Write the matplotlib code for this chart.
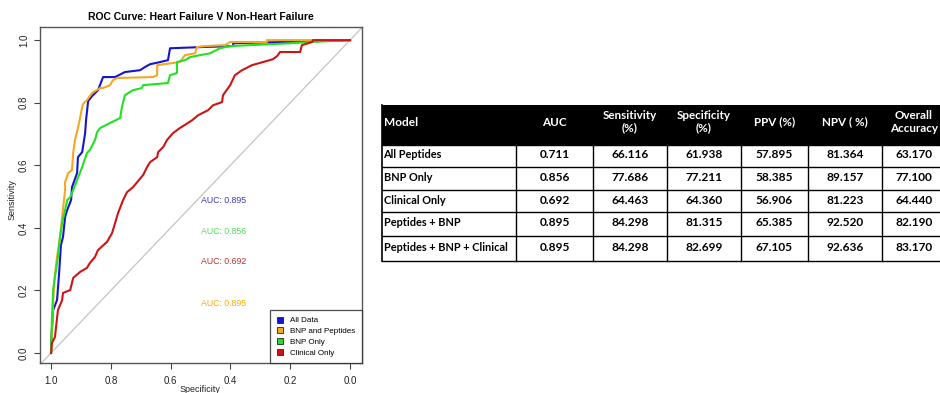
import matplotlib
matplotlib.use("Agg")
import matplotlib.pyplot as plt
from matplotlib.patches import Rectangle

# ROC curves (specificity, sensitivity)
all_spec = [0.000, 0.234, 0.391, 0.391, 0.492, 0.602, 0.609, 0.635, 0.669, 0.686, 0.702, 0.753,
            0.786, 0.826, 0.843, 0.863, 0.876, 0.883, 0.886, 0.896, 0.910, 0.913, 0.930, 0.933,
            0.946, 0.953, 0.960, 0.967, 0.973, 0.980, 0.993, 1.000, 1.000]
all_sens = [1.000, 0.994, 0.990, 0.981, 0.978, 0.974, 0.936, 0.930, 0.923, 0.914, 0.904, 0.898,
            0.882, 0.882, 0.840, 0.821, 0.805, 0.744, 0.703, 0.642, 0.626, 0.575, 0.530, 0.489,
            0.457, 0.435, 0.371, 0.345, 0.256, 0.169, 0.137, 0.032, 0.000]

bp_spec = [0.000, 0.278, 0.278, 0.401, 0.418, 0.485, 0.512, 0.518, 0.552, 0.569, 0.645, 0.645,
           0.659, 0.779, 0.793, 0.803, 0.826, 0.836, 0.863, 0.880, 0.893, 0.896, 0.903, 0.910,
           0.920, 0.926, 0.930, 0.943, 0.953, 0.953, 0.963, 0.970, 0.980, 0.990, 0.997, 1.000]
bp_sens = [1.000, 1.000, 0.994, 0.994, 0.984, 0.981, 0.978, 0.958, 0.952, 0.930, 0.920, 0.888,
           0.882, 0.879, 0.872, 0.856, 0.847, 0.847, 0.831, 0.808, 0.796, 0.786, 0.751, 0.719,
           0.681, 0.639, 0.585, 0.575, 0.546, 0.521, 0.435, 0.371, 0.307, 0.224, 0.064, 0.000]

bnp_spec = [0.000, 0.134, 0.201, 0.401, 0.435, 0.468, 0.502, 0.535, 0.552, 0.579, 0.579, 0.602,
            0.609, 0.692, 0.696, 0.726, 0.753, 0.763, 0.769, 0.803, 0.836, 0.846, 0.853, 0.870,
            0.880, 0.896, 0.913, 0.926, 0.936, 0.946, 0.953, 0.963, 0.970, 0.977, 0.987, 0.993,
            0.997, 1.000]
bnp_sens = [1.000, 0.994, 0.990, 0.981, 0.974, 0.958, 0.952, 0.946, 0.936, 0.930, 0.895, 0.888,
            0.863, 0.856, 0.847, 0.840, 0.824, 0.786, 0.751, 0.735, 0.719, 0.706, 0.681, 0.649,
            0.639, 0.594, 0.553, 0.521, 0.498, 0.489, 0.457, 0.415, 0.371, 0.307, 0.243, 0.201,
            0.115, 0.000]

clin_spec = [0.000, 0.124, 0.127, 0.161, 0.167, 0.234, 0.244, 0.258, 0.291, 0.328, 0.361, 0.385,
             0.401, 0.425, 0.428, 0.458, 0.475, 0.508, 0.528, 0.569, 0.592, 0.612, 0.625, 0.642,
             0.645, 0.669, 0.679, 0.692, 0.712, 0.726, 0.746, 0.759, 0.776, 0.786, 0.796, 0.813,
             0.843, 0.853, 0.870, 0.880, 0.903, 0.926, 0.936, 0.960, 0.963, 0.977, 0.987, 0.997,
             1.000]
clin_sens = [1.000, 1.000, 0.994, 0.984, 0.962, 0.962, 0.949, 0.939, 0.930, 0.920, 0.904, 0.888,
             0.856, 0.824, 0.802, 0.792, 0.776, 0.760, 0.744, 0.719, 0.703, 0.681, 0.658, 0.642,
             0.626, 0.610, 0.594, 0.569, 0.546, 0.530, 0.514, 0.489, 0.447, 0.415, 0.383, 0.355,
             0.329, 0.307, 0.288, 0.272, 0.259, 0.240, 0.201, 0.192, 0.169, 0.137, 0.051, 0.032,
             0.000]

legend_labels = ["All Data", "BNP and Peptides", "BNP Only", "Clinical Only"]
auc_labels = ["AUC: 0.895", "AUC: 0.856", "AUC: 0.692", "AUC: 0.895"]
auc_y = [0.489, 0.387, 0.291, 0.157]

# Performance table
header = ["Model", "AUC", "Sensitivity\n(%)", "Specificity\n(%)", "PPV (%)", "NPV ( %)", "Overall\nAccuracy"]
models = ["All Peptides", "BNP Only", "Clinical Only", "Peptides + BNP", "Peptides + BNP + Clinical"]
auc = ["0.711", "0.856", "0.692", "0.895", "0.895"]
sensitivity = ["66.116", "77.686", "64.463", "84.298", "84.298"]
specificity = ["61.938", "77.211", "64.360", "81.315", "82.699"]
ppv = ["57.895", "58.385", "56.906", "65.385", "67.105"]
npv = ["81.364", "89.157", "81.223", "92.520", "92.636"]
accuracy = ["63.170", "77.100", "64.440", "82.190", "83.170"]

W, H = 940, 393
fig = plt.figure(figsize=(W / 100, H / 100), dpi=100)
fig.patch.set_facecolor("white")

# ---- ROC panel ----
ax = fig.add_axes([40 / W, (H - 363) / H, 322 / W, 336 / H])
ax.set_xlim(1.037, -0.04)
ax.set_ylim(-0.032, 1.042)

ax.plot([1.2, -0.2], [-0.2, 1.2], color="#c4c4c4", lw=0.9, zorder=1)

cols = ["#1515d0", "#f5a623", "#22e022", "#cc1515"]
text_cols = ["#3a3aa8", "#55dd55", "#b83030", "#ffaa00"]
series = [(all_spec, all_sens), (bp_spec, bp_sens), (bnp_spec, bnp_sens), (clin_spec, clin_sens)]
for i in [3, 2, 1, 0]:
    s, v = series[i]
    ax.plot(s, v, color=cols[i], lw=1.5, zorder=2 + i * 0.1)

for lab, yv, c in zip(auc_labels, auc_y, text_cols):
    ax.text(0.5, yv, lab, color=c, fontsize=6.3, ha="left", va="center",
            family="Liberation Sans")

ax.set_xticks([1.0, 0.8, 0.6, 0.4, 0.2, 0.0])
ax.set_xticklabels(["1.0", "0.8", "0.6", "0.4", "0.2", "0.0"])
ax.set_yticks([0.0, 0.2, 0.4, 0.6, 0.8, 1.0])
ax.set_yticklabels(["0.0", "0.2", "0.4", "0.6", "0.8", "1.0"], rotation=90, va="center")
ax.tick_params(axis="both", direction="out", length=4, width=0.8, color="#444444",
               labelsize=7, labelcolor="#222222")
ax.tick_params(axis="x", pad=5)
ax.tick_params(axis="y", pad=4)
for lbl in ax.get_xticklabels() + ax.get_yticklabels():
    lbl.set_family("Liberation Sans")
for sp in ax.spines.values():
    sp.set_color("#555555")
    sp.set_linewidth(1.0)

ax.set_title("ROC Curve: Heart Failure V Non-Heart Failure", fontsize=7.5,
             fontweight="bold", family="Liberation Sans", pad=5)
fig.text(12 / W, (H - 200) / H, "Sensitivity", rotation=90, ha="center", va="center",
         fontsize=6.5, family="Liberation Sans", color="#222222")
fig.text(200 / W, (H - 389) / H, "Specificity", ha="center", va="center",
         fontsize=6.5, family="Liberation Sans", color="#222222")

handles = [Rectangle((0, 0), 1, 1, facecolor=c, edgecolor="#222222", lw=0.6) for c in cols]
leg = ax.legend(handles, legend_labels, loc="lower right", frameon=True, fancybox=False,
                borderpad=0.8, labelspacing=0.35, handlelength=0.8, handleheight=0.8,
                handletextpad=0.9, borderaxespad=0.0,
                prop={"family": "Liberation Sans", "size": 5.8})
leg.get_frame().set_edgecolor("#222222")
leg.get_frame().set_linewidth(0.9)

# ---- Table panel (pixel coordinates) ----
tx = fig.add_axes([0, 0, 1, 1], facecolor="none")
tx.set_xlim(0, W)
tx.set_ylim(H, 0)
tx.axis("off")

col_edges = [382, 516, 593, 667, 741, 808, 882, 946]
row_edges = [105, 145, 167, 190, 212, 236, 261]
right = 960

tx.add_patch(Rectangle((col_edges[0], row_edges[0]), right - col_edges[0],
                       row_edges[1] - row_edges[0], facecolor="black", edgecolor="none"))
for y in row_edges[1:]:
    tx.plot([col_edges[0], right], [y, y], color="black", lw=1.0)
for x in col_edges[:-1]:
    tx.plot([x, x], [row_edges[0] if x == col_edges[0] else row_edges[1], row_edges[-1]],
            color="black", lw=1.2 if x == col_edges[0] else 1.0)

tfont = dict(family=["Lato", "DejaVu Sans"], fontweight="bold")
head_y = 122
centers = [(col_edges[i] + col_edges[i + 1]) / 2 for i in range(len(col_edges) - 1)]
for j, h in enumerate(header):
    if j == 0:
        tx.text(col_edges[0] + 2, head_y, h, color="white", fontsize=8.6, ha="left",
                va="center", **tfont)
    else:
        tx.text(centers[j], head_y, h, color="white", fontsize=8.4, ha="center",
                va="center", linespacing=1.15, **tfont)

columns = [auc, sensitivity, specificity, ppv, npv, accuracy]
for r, m in enumerate(models):
    yc = (row_edges[r + 1] + row_edges[r + 2]) / 2 - 1
    tx.text(col_edges[0] + 1.5, yc, m, color="black", fontsize=7.9, ha="left", va="center",
            **tfont)
    for j, colvals in enumerate(columns):
        tx.text(centers[j + 1], yc, colvals[r], color="black", fontsize=8.6, ha="center",
                va="center", **tfont)

fig.savefig("out.png", dpi=100)
